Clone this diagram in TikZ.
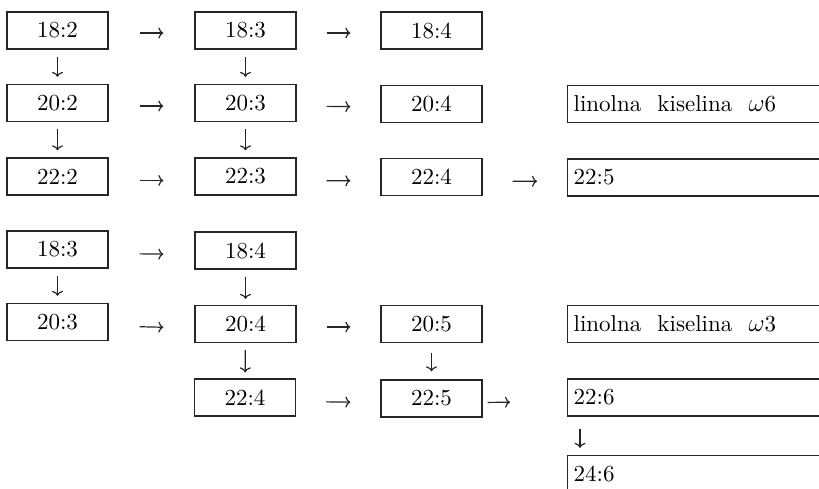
\documentclass[tikz,border=0pt]{standalone}
\usepackage{fontspec}
\newfontfamily\tenrm{lmroman10-regular}[Extension=.otf]
\usetikzlibrary{arrows.meta}
\begin{document}
\begin{tikzpicture}[x=1pt,y=-1pt,
  ink/.style={draw=black!85, line width=1.3pt},
  box/.style={ink, minimum width=101pt, minimum height=37pt, inner sep=0pt,
    font=\tenrm\fontsize{23}{27}\selectfont},
  wbox/.style={ink, minimum height=37pt, text width=262pt, inner xsep=6pt,
    inner ysep=0pt, align=left, anchor=west, font=\tenrm\fontsize{23}{27}\selectfont},
  harr/.style={draw=black!85, line width=1.2pt,
    -{Computer Modern Rightarrow[length=5pt,width=11pt]},
    shorten <=31pt, shorten >=31pt},
  varr/.style={harr, shorten <=7pt, shorten >=7pt}]
\useasboundingbox (0,0) rectangle (819,489);
\clip (0,0) rectangle (819,489);
% first group
\node[box] (b182) at (57.5,30.5) {18:2};
\node[box] (b183) at (245.5,30.5) {18:3};
\node[box] (b184) at (431.5,30.5) {18:4};
\node[box] (b202) at (57.5,103) {20:2};
\node[box] (b203) at (245.5,103) {20:3};
\node[box] (b204) at (431.5,104) {20:4};
\node[wbox] (w6) at (567,104) {linolna\hspace{0.7em}kiselina\hspace{0.7em}$\omega$6};
\node[box] (b222) at (57.5,176.5) {22:2};
\node[box] (b223) at (245.5,176.5) {22:3};
\node[box] (b224) at (431.5,177) {22:4};
\node[wbox] (w225) at (567,177.5) {22:5};
% second group
\node[box] (c183) at (57.5,249.5) {18:3};
\node[box] (c184) at (245.5,250.5) {18:4};
\node[box] (c203) at (57.5,322) {20:3};
\node[box] (c204) at (245.5,324) {20:4};
\node[box] (c205) at (431.5,324) {20:5};
\node[wbox] (w3) at (567,324) {linolna\hspace{0.7em}kiselina\hspace{0.7em}$\omega$3};
\node[box] (c224) at (245,397.5) {22:4};
\node[box] (c225) at (431.5,398.5) {22:5};
\node[wbox] (w226) at (567,397.5) {22:6};
\node[wbox] (w246) at (567,474) {24:6};
% horizontal connectors
\draw[harr] ([yshift=-2.5pt]b182.east) -- ([yshift=-2.5pt]b183.west);
\draw[harr, shorten <=30pt, shorten >=30pt] ([yshift=-2.5pt]b183.east) -- ([yshift=-2.5pt]b184.west);
\draw[harr] ([yshift=-3pt]b202.east) -- ([yshift=-3pt]b203.west);
\draw[harr, shorten <=30pt, shorten >=30pt] ([yshift=-3pt]b203.east) -- ([yshift=-3pt]b204.west);
\draw[harr] ([yshift=-4pt]b222.east) -- ([yshift=-4pt]b223.west);
\draw[harr, shorten <=30pt, shorten >=30pt] ([yshift=-4pt]b223.east) -- ([yshift=-4pt]b224.west);
\draw[harr, shorten <=30pt, shorten >=30pt] ([yshift=-4pt]b224.east) -- ([yshift=-4pt]w225.west);
\draw[harr] ([yshift=-4pt]c183.east) -- ([yshift=-4pt]c184.west);
\draw[harr] ([yshift=-4pt]c203.east) -- ([yshift=-4pt]c204.west);
\draw[harr, shorten <=30pt, shorten >=30pt] ([yshift=-3pt]c204.east) -- ([yshift=-3pt]c205.west);
\draw[harr, shorten <=30pt, shorten >=30pt] ([yshift=-4pt]c224.east) -- ([yshift=-4pt]c225.west);
\draw[harr, shorten <=5pt, shorten >=57pt] ([yshift=-4pt]c225.east) -- ([yshift=-4pt]w226.west);
% vertical connectors
\draw[varr] (b182) -- (b202);
\draw[varr] (b183) -- (b203);
\draw[varr] (b202) -- (b222);
\draw[varr] (b203) -- (b223);
\draw[varr] (c183) -- (c203);
\draw[varr, shorten >=6pt] (c184) -- (c204);
\draw[varr, shorten >=6pt] (c204) -- (c224);
\draw[varr, shorten <=10pt, shorten >=8pt] (c205) -- (c225);
\draw[varr, shorten <=12pt, shorten >=7pt] ([xshift=13pt]w226.south west) -- ([xshift=13pt]w246.north west);
\end{tikzpicture}
\end{document}
